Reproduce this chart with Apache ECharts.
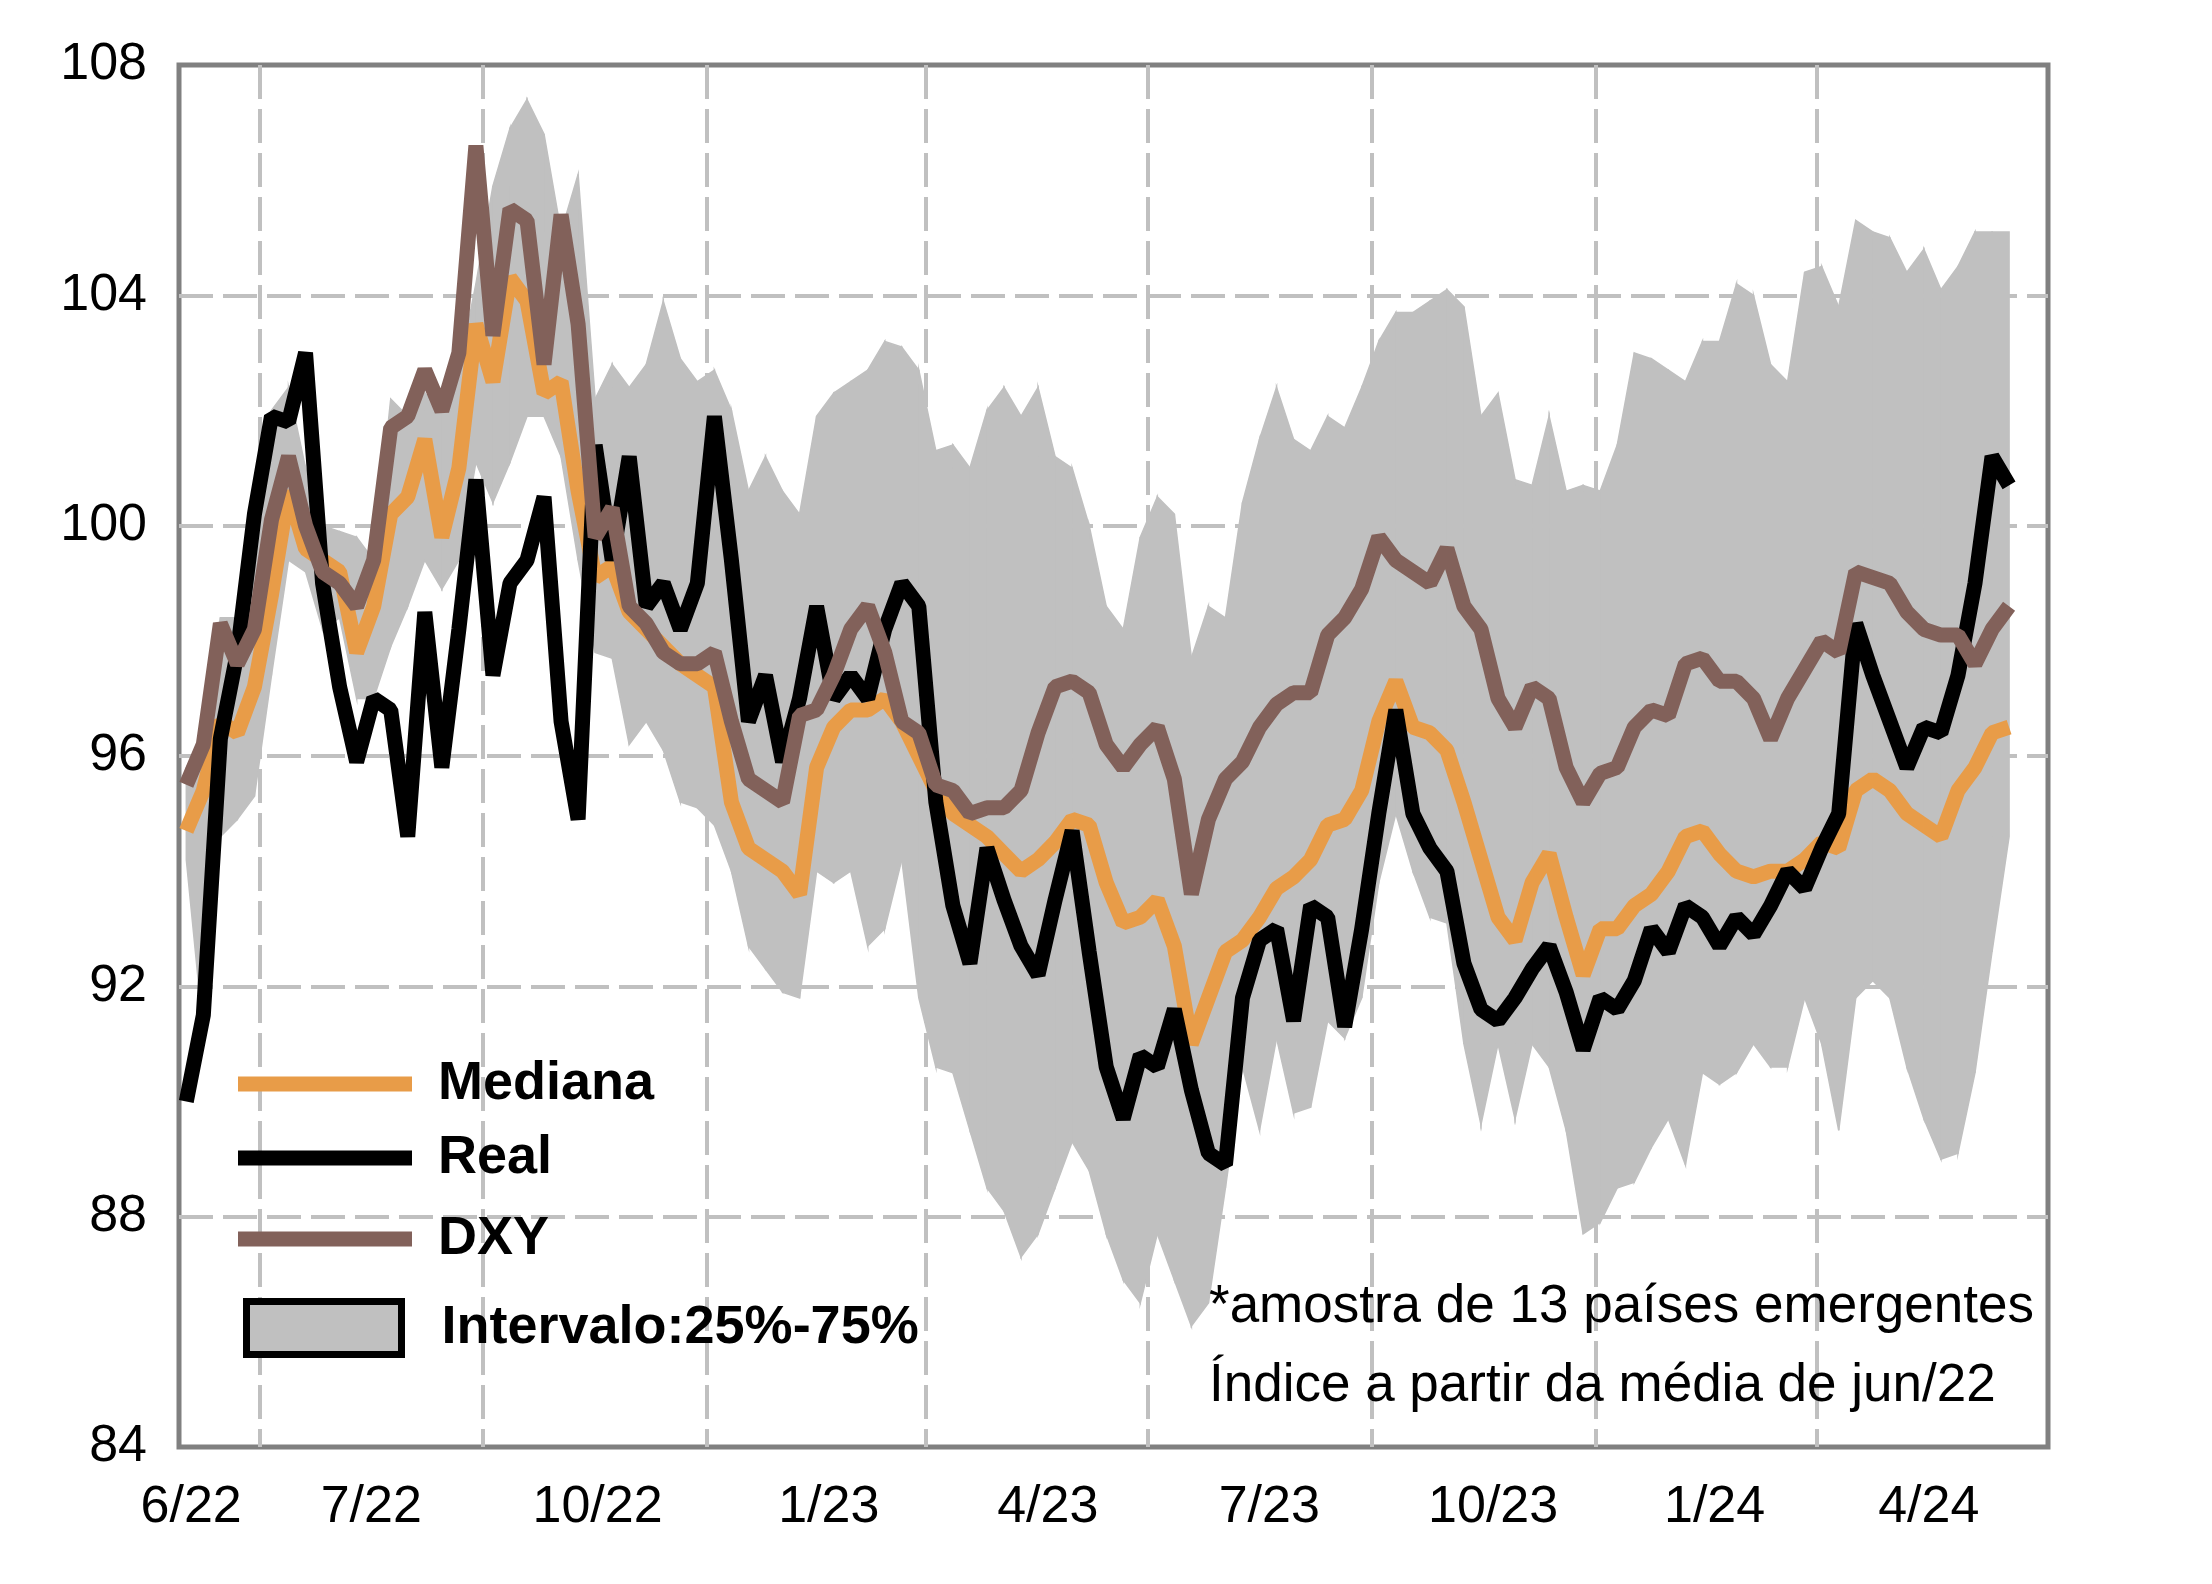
<!DOCTYPE html>
<html>
<head>
<meta charset="utf-8">
<script src="https://cdn.jsdelivr.net/npm/echarts@6.0.0/dist/echarts.min.js"></script>
<style>
html, body { margin: 0; padding: 0; background: #fff; }
#chart { width: 2212px; height: 1584px; }
</style>
</head>
<body>
<div id="chart"></div>
<script>
// one reading per week, first week 2022-06-01
const startDate = '2022-06-01';

const mediana = [
    94.7, 95.4, 96.6, 96.4, 97.2, 98.8, 100.6, 99.6, 99.4, 99.2, 97.8, 98.6,
    100.2, 100.5, 101.5, 99.8, 101.0, 103.5, 102.5, 104.3, 103.9, 102.3, 102.5, 100.6,
    99.1, 99.3, 98.5, 98.2, 97.9, 97.6, 97.4, 97.2, 95.2, 94.4, 94.2, 94.0,
    93.6, 95.8, 96.5, 96.8, 96.8, 97.0, 96.6, 96.0, 95.4, 95.0, 94.8, 94.6,
    94.3, 94.0, 94.2, 94.5, 94.9, 94.8, 93.8, 93.1, 93.2, 93.5, 92.7, 91.0,
    91.8, 92.6, 92.8, 93.2, 93.7, 93.9, 94.2, 94.8, 94.9, 95.4, 96.6, 97.3,
    96.5, 96.4, 96.1, 95.2, 94.2, 93.2, 92.8, 93.8, 94.3, 93.2, 92.2, 93.0,
    93.0, 93.4, 93.6, 94.0, 94.6, 94.7, 94.3, 94.0, 93.9, 94.0, 94.0, 94.2,
    94.5, 94.4, 95.4, 95.6, 95.4, 95.0, 94.8, 94.6, 95.4, 95.8, 96.4, 96.5
];

const real = [
    90.0, 91.5, 96.3, 97.8, 100.2, 101.9, 101.8, 103.0, 99.0, 97.2, 95.9, 97.0,
    96.8, 94.6, 98.5, 95.8, 98.2, 100.8, 97.4, 99.0, 99.4, 100.5, 96.6, 94.9,
    101.4, 99.4, 101.2, 98.6, 99.0, 98.2, 99.0, 101.9, 99.4, 96.6, 97.4, 95.9,
    97.0, 98.6, 97.0, 97.4, 97.0, 98.2, 99.0, 98.6, 95.2, 93.4, 92.4, 94.4,
    93.5, 92.7, 92.2, 93.5, 94.7, 92.6, 90.6, 89.7, 90.8, 90.6, 91.6, 90.2,
    89.1, 88.9, 91.8, 92.8, 93.0, 91.4, 93.4, 93.2, 91.3, 93.0, 95.0, 96.8,
    95.0, 94.4, 94.0, 92.4, 91.6, 91.4, 91.8, 92.3, 92.7, 91.9, 90.9, 91.8,
    91.6, 92.1, 93.0, 92.6, 93.4, 93.2, 92.7, 93.2, 92.9, 93.4, 94.0, 93.7,
    94.4, 95.0, 98.3, 97.4, 96.6, 95.8, 96.5, 96.4, 97.4, 99.0, 101.2, 100.7
];

const dxy = [
    95.5, 96.2, 98.3, 97.6, 98.2, 100.1, 101.2, 100.0, 99.2, 99.0, 98.6, 99.4,
    101.7, 101.9, 102.7, 102.0, 103.0, 106.6, 103.3, 105.5, 105.3, 102.8, 105.4, 103.5,
    99.8, 100.3, 98.6, 98.3, 97.8, 97.6, 97.6, 97.8, 96.6, 95.6, 95.4, 95.2,
    96.7, 96.8, 97.4, 98.2, 98.6, 97.8, 96.6, 96.4, 95.5, 95.4, 95.0, 95.1,
    95.1, 95.4, 96.4, 97.2, 97.3, 97.1, 96.2, 95.8, 96.2, 96.5, 95.6, 93.6,
    94.9, 95.6, 95.9, 96.5, 96.9, 97.1, 97.1, 98.1, 98.4, 98.9, 99.8, 99.4,
    99.2, 99.0, 99.6, 98.6, 98.2, 97.0, 96.5, 97.2, 97.0, 95.8, 95.2, 95.7,
    95.8, 96.5, 96.8, 96.7, 97.6, 97.7, 97.3, 97.3, 97.0, 96.3, 97.0, 97.5,
    98.0, 97.8, 99.2, 99.1, 99.0, 98.5, 98.2, 98.1, 98.1, 97.6, 98.2, 98.6
];

// 25% and 75% quantiles of the 13 emerging countries
const p25 = [
    94.2, 91.2, 94.6, 94.9, 95.3, 97.4, 99.4, 99.2, 98.2, 98.4, 97.0, 97.0,
    97.9, 98.6, 99.4, 98.9, 99.4, 101.1, 100.4, 101.1, 101.9, 101.9, 101.2, 99.4,
    97.8, 97.7, 96.2, 96.6, 96.1, 95.2, 95.1, 94.8, 94.0, 92.7, 92.3, 91.9,
    91.8, 94.0, 93.8, 94.0, 92.7, 93.0, 94.2, 91.8, 90.6, 90.5, 89.5, 88.5,
    88.1, 87.3, 87.7, 88.5, 89.3, 88.8, 87.7, 86.9, 86.5, 87.7, 86.9, 86.1,
    86.5, 88.5, 90.6, 89.5, 91.1, 89.8, 89.9, 91.4, 91.1, 91.8, 93.8, 95.0,
    94.0, 93.2, 93.1, 91.0, 89.6, 91.0, 89.7, 91.0, 90.6, 89.5, 87.7, 87.9,
    88.5, 88.6, 89.2, 89.7, 88.9, 90.5, 90.3, 90.5, 91.0, 90.6, 90.6, 91.8,
    91.0, 89.5, 91.8, 92.1, 91.8, 90.6, 89.7, 89.0, 89.1, 90.5, 92.6, 94.6
];

const p75 = [
    95.8, 96.4, 98.4, 98.4, 100.2, 102.0, 102.4, 101.0, 100.0, 99.9, 99.8, 99.4,
    102.2, 101.9, 102.3, 102.0, 102.7, 104.2, 105.9, 106.9, 107.4, 106.8, 105.1, 106.1,
    102.2, 102.8, 102.4, 102.8, 103.9, 102.9, 102.5, 102.7, 102.0, 100.6, 101.2, 100.6,
    100.2, 101.9, 102.3, 102.5, 102.7, 103.2, 103.1, 102.7, 101.3, 101.4, 101.0, 102.0,
    102.4, 101.9, 102.4, 101.2, 101.0, 100.0, 98.6, 98.2, 99.8, 100.5, 100.2, 97.7,
    98.6, 98.4, 100.4, 101.5, 102.4, 101.5, 101.3, 101.9, 101.7, 102.4, 103.2, 103.7,
    103.7, 103.9, 104.1, 103.8, 101.9, 102.3, 100.8, 100.7, 101.9, 100.6, 100.7, 100.6,
    101.4, 103.0, 102.9, 102.7, 102.5, 103.2, 103.2, 104.2, 104.0, 102.8, 102.5, 104.4,
    104.5, 103.8, 105.3, 105.1, 105.0, 104.4, 104.8, 104.1, 104.5, 105.1, 105.1, 105.1
];

// x axis: grid lines at quarter starts, labels in the middle of each period
const quarterStarts = ['2022-07-01', '2022-10-01', '2023-01-01', '2023-04-01',
    '2023-07-01', '2023-10-01', '2024-01-01', '2024-04-01'];
const labelDates = ['2022-06-03', '2022-08-16', '2022-11-17', '2023-02-20', '2023-05-21',
    '2023-08-20', '2023-11-20', '2024-02-19', '2024-05-17'];
const labelTexts = ['6/22', '7/22', '10/22', '1/23', '4/23', '7/23', '10/23', '1/24', '4/24'];

const notes = '*amostra de 13 países emergentes\nÍndice a partir da média de jun/22';

const font = 'Liberation Sans';
const bandColor = '#C0C0C0';

// echarts.time.parse gives a Date, keep plain numbers
function toTime(d) {
    return +echarts.time.parse(d);
}

function weekDates(start, n) {
    let out = [];
    let t = toTime(start);
    for (let i = 0; i < n; i++) {
        out.push(t + i * 7 * 86400000);
    }
    return out;
}

let dates = weekDates(startDate, real.length);
let labelTimes = labelDates.map(toTime);

function pairs(vals) {
    return vals.map((v, i) => [dates[i], v]);
}

function lineSeries(name, vals, color) {
    return {
        name: name,
        type: 'line',
        data: pairs(vals),
        symbol: 'none',
        color: color,
        lineStyle: { width: 15, color: color },
        emphasis: { disabled: true },
        z: 3
    };
}

// the 25%-75% band, one quad between each week and the next
function renderBand(params, api) {
    let i = params.dataIndex;
    if (i >= dates.length - 1) return null;
    let a = api.coord([dates[i], p75[i]]);
    let b = api.coord([dates[i + 1], p75[i + 1]]);
    let c = api.coord([dates[i + 1], p25[i + 1]]);
    let d = api.coord([dates[i], p25[i]]);
    return {
        type: 'polygon',
        shape: { points: [a, b, c, d] },
        style: { fill: bandColor, stroke: bandColor, lineWidth: 1.5 }
    };
}

function legendItem(name, top, left, itemWidth, itemHeight, pad, itemStyle) {
    return {
        data: [{ name: name, icon: 'rect', itemStyle: itemStyle }],
        left: left,
        top: top,
        itemWidth: itemWidth,
        itemHeight: itemHeight,
        selectedMode: false,
        textStyle: {
            fontFamily: font,
            fontSize: 54,
            fontWeight: 'bold',
            color: '#000',
            padding: [0, 0, 0, pad]
        }
    };
}

echarts.init(document.getElementById('chart')).setOption({
    animation: false,
    textStyle: { fontFamily: font },
    grid: {
        left: 179,
        right: 164,
        top: 65,
        bottom: 137,
        show: true,
        borderColor: '#808080',
        borderWidth: 5,
        backgroundColor: 'transparent'
    },
    title: {
        text: notes,
        left: 1209,
        top: 1268,
        padding: 0,
        textStyle: {
            fontFamily: font,
            fontSize: 53,
            fontWeight: 'normal',
            color: '#000',
            lineHeight: 79
        }
    },
    legend: [
        legendItem('Mediana', 1052, 233, 174, 15, 21, { borderWidth: 0 }),
        legendItem('Real', 1126, 233, 174, 15, 21, { borderWidth: 0 }),
        legendItem('DXY', 1207, 233, 174, 15, 21, { borderWidth: 0 }),
        legendItem('Intervalo:25%-75%', 1293, 238, 155, 53, 35,
            { color: bandColor, borderColor: '#000', borderWidth: 7 })
    ],
    xAxis: {
        type: 'value',
        min: toTime('2022-05-29'),
        max: toTime('2024-07-05'),
        axisLine: { show: false },
        axisTick: { show: false, customValues: quarterStarts.map(toTime) },
        axisLabel: {
            customValues: labelTimes,
            fontSize: 52,
            color: '#000',
            margin: 35,
            formatter: function (val) {
                let i = labelTimes.indexOf(+val);
                return i < 0 ? '' : labelTexts[i];
            }
        },
        splitLine: {
            show: true,
            lineStyle: { color: '#C0C0C0', width: 4, type: [34, 10] }
        }
    },
    yAxis: {
        type: 'value',
        min: 84,
        max: 108,
        interval: 4,
        axisLine: { show: false },
        axisTick: { show: false },
        axisLabel: { fontSize: 52, color: '#000', margin: 32 },
        splitLine: {
            show: true,
            showMinLine: false,
            showMaxLine: false,
            lineStyle: { color: '#C0C0C0', width: 4, type: [34, 10] }
        }
    },
    series: [
        {
            name: 'Intervalo:25%-75%',
            type: 'custom',
            data: dates.map((d, i) => [d, p25[i], p75[i]]),
            encode: { x: 0, y: [1, 2] },
            renderItem: renderBand,
            color: bandColor,
            silent: true,
            z: 1
        },
        lineSeries('Mediana', mediana, '#E89C48'),
        lineSeries('Real', real, '#000000'),
        lineSeries('DXY', dxy, '#82615A')
    ]
});
</script>
</body>
</html>
